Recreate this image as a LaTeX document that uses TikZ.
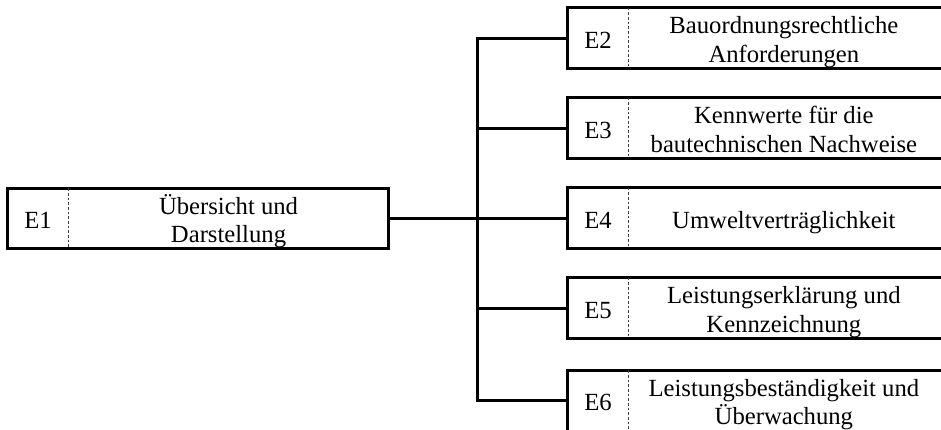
\documentclass[tikz,border=0pt]{standalone}
\usepackage{fontspec}
\setmainfont{Liberation Serif}
\newcommand\TopS{\rule{0pt}{19pt}}
\newcommand\BotS{\rule[-4pt]{0pt}{4pt}}
\begin{document}
\begin{tikzpicture}[x=0.75pt,y=-0.75pt,
  lab/.style={minimum width=45pt, minimum height=45pt, inner sep=0pt, font=\fontsize{18.5}{21.5}\selectfont},
  txt/.style={minimum height=45pt, inner sep=0pt, align=center, anchor=west, font=\fontsize{18.5}{21.5}\selectfont},
  rtxt/.style={txt, minimum width=233pt},
  frame/.style={line width=2.25pt},
  divider/.style={line width=0.6pt, dash pattern=on 2pt off 1.5pt, black!75},
  conn/.style={line width=2.25pt}]
\useasboundingbox (0,0) rectangle (941,429);

% E1
\node[lab] (e1l) at (38,218.5) {\TopS E1\BotS};
\node[txt, minimum width=240pt] (e1t) at (e1l.east) {\TopS Übersicht und\\Darstellung\BotS};

% right boxes
\node[lab] (e2l) at (598,38) {\TopS E2\BotS};
\node[rtxt] (e2t) at (e2l.east) {\TopS Bauordnungsrechtliche\\Anforderungen\BotS};
\node[lab] (e3l) at (598,128) {\TopS E3\BotS};
\node[rtxt] (e3t) at (e3l.east) {\TopS Kennwerte für die\\bautechnischen Nachweise\BotS};
\node[lab] (e4l) at (598,218) {\TopS E4\BotS};
\node[rtxt] (e4t) at (e4l.east) {\TopS Umweltverträglichkeit\BotS};
\node[lab] (e5l) at (598,308) {\TopS E5\BotS};
\node[rtxt] (e5t) at (e5l.east) {\TopS Leistungserklärung und\\Kennzeichnung\BotS};
\node[lab] (e6l) at (598,400.5) {\TopS E6\BotS};
\node[rtxt] (e6t) at (e6l.east) {\TopS Leistungsbeständigkeit und\\Überwachung\BotS};

% frames and dividers
\draw[frame] (e1l.north west) rectangle (e1t.south east);
\draw[divider] (e1l.north east) -- (e1l.south east);
\foreach \n in {e2,e3,e4,e5}{
  \draw[frame] (\n l.north west) rectangle ([xshift=8pt]\n t.south east);
  \draw[divider] (\n l.north east) -- (\n l.south east);
}
\draw[frame] ([yshift=-4pt]e6l.south west) -- (e6l.north west) -- ([xshift=8pt]e6t.north east);
\draw[divider] (e6l.north east) -- ([yshift=-4pt]e6l.south east);

% connectors
\coordinate (tr) at (477,218);
\draw[conn] (e1t.east |- tr) -- (e4l.west);
\draw[conn] (e2l.west) -| (tr) |- (e6l.west);
\draw[conn] (tr |- e3l.west) -- (e3l.west);
\draw[conn] (tr |- e5l.west) -- (e5l.west);
\end{tikzpicture}
\end{document}
